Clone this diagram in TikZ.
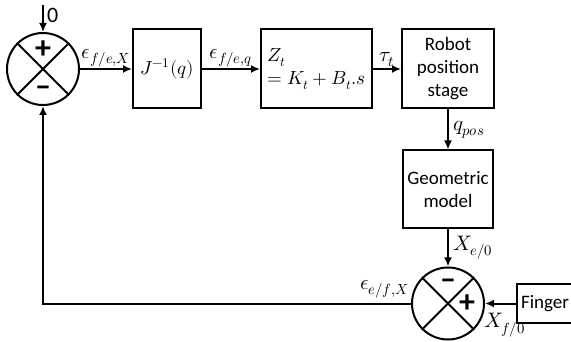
\documentclass[tikz,border=0pt]{standalone}
\usepackage{amsmath}
\usepackage{fontspec}
\usepackage{unicode-math}
\setmainfont{Carlito}
\setmathfont{Latin Modern Math}
\usetikzlibrary{arrows.meta, positioning}

\begin{document}
\begin{tikzpicture}[x=1pt, y=1pt, line width=2pt,
    block/.style={draw, line width=2pt, minimum width=68pt, minimum height=79pt, align=center, inner sep=2pt, font=\fontsize{19}{23}\selectfont},
    summer/.style={draw, circle, line width=2pt, minimum size=72pt, inner sep=0pt},
    sign/.style={inner sep=0pt, font=\fontsize{32}{32}\selectfont\bfseries},
    lbl/.style={inner sep=1pt, font=\fontsize{21}{24}\selectfont},
    arrow/.style={-{Latex[length=9pt, width=8pt]}}]
    \useasboundingbox (0,0) rectangle (571,-342);
    % summing junctions and blocks
    \node[summer] (sum1) at (43,-69) {};
    \draw (sum1.north west) -- (sum1.south east);
    \draw (sum1.north east) -- (sum1.south west);
    \node[sign] (plus1) at ([yshift=-18pt]sum1.north) {+};
    \node[sign] (minus1) at ([yshift=15pt]sum1.south) {–};
    \node[block, right=52pt of sum1] (jac) {$J^{-1}(q)$};
    \node[block, right=58pt of jac, minimum width=111pt, align=left] (imp) {$Z_t$\\$= K_t + B_t.s$};
    \node[block, right=28pt of imp, minimum width=92pt] (robot) {Robot\\position\\stage};
    \node[block, below=40pt of robot, minimum width=90pt, minimum height=78pt] (geo) {Geometric\\model};
    \node[summer, below=37pt of geo] (sum2) {};
    \draw (sum2.north west) -- (sum2.south east);
    \draw (sum2.north east) -- (sum2.south west);
    \node[sign] (minus2) at ([yshift=-18pt]sum2.north) {–};
    \node[sign] (plus2) at ([xshift=-18pt]sum2.east) {+};
    \node[block, right=31pt of sum2, minimum width=56pt, minimum height=39pt] (finger) {Finger};
    % signals
    \coordinate (in) at (43,-5);
    \draw[arrow] (in) -- (sum1.north) node[pos=0.4, right, inner sep=3pt, font=\fontsize{22}{22}\selectfont] (zero) {0};
    \draw[arrow] (sum1) -- (jac) node[midway, above, lbl] (ex) {$\epsilon_{f/e,X}$};
    \draw[arrow] (jac) -- (imp) node[midway, above, lbl] (eq) {$\epsilon_{f/e,q}$};
    \draw[arrow] (imp) -- (robot) node[midway, above, lbl] (tau) {$\tau_t$};
    \draw[arrow] (robot) -- (geo) node[midway, right, lbl, inner sep=4pt] (qpos) {$q_{pos}$};
    \draw[arrow] (geo) -- (sum2) node[midway, right, lbl, inner sep=4pt] (xe) {$X_{e/0}$};
    \draw[arrow] (finger) -- (sum2) node[at end, anchor=north west, xshift=-3pt, yshift=-8pt, lbl] (xf) {$X_{f/0}$};
    \draw[arrow] (sum2.west) -- (sum1.south |- sum2.west) -- (sum1.south);
    \node[lbl, anchor=south east, yshift=3pt] (eef) at (sum2.west) {$\epsilon_{e/f,X}$};
\end{tikzpicture}
\end{document}
